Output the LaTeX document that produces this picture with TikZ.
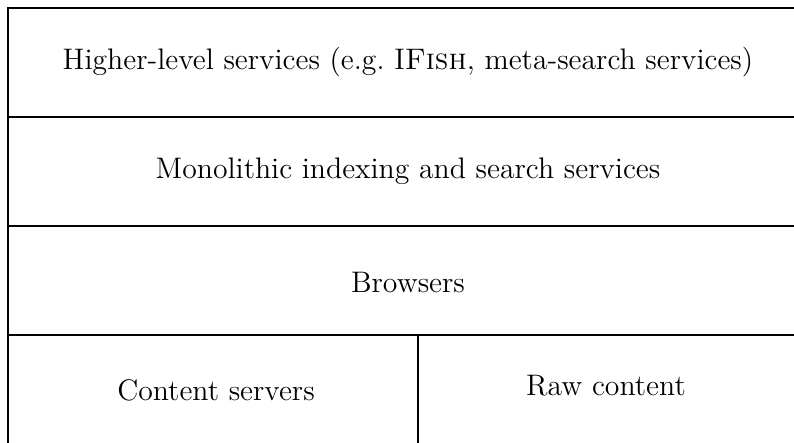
\documentclass[tikz,border=0pt]{standalone}
\begin{document}
\begin{tikzpicture}[x=0.478pt,y=-0.478pt,
  rule/.style={line width=1.4pt},
  label/.style={font=\fontsize{14.2}{17}\selectfont, inner sep=0pt, anchor=center}]
\useasboundingbox (0,0) rectangle (794,442);
\begin{scope}
\clip (0,0) rectangle (794,442);
% frame of the layered stack
\draw[rule] (8,446) -- (8,8) -- (800,8);
\draw[rule] (8,117) -- (800,117);
\draw[rule] (8,226) -- (800,226);
\draw[rule] (8,335) -- (800,335);
\draw[rule] (418,335) -- (418,446);
\end{scope}
% layer labels
\node[label] (higher) at (408,62) {Higher-level services (e.g.\ I\textsc{Fish}, meta-search services)};
\node[label] (mono) at (408,171) {Monolithic indexing and search services};
\node[label] (browse) at (408,282) {Browsers};
\node[label] (content) at (216,390) {Content servers};
\node[label] (raw) at (606,386) {Raw content};
\end{tikzpicture}
\end{document}
